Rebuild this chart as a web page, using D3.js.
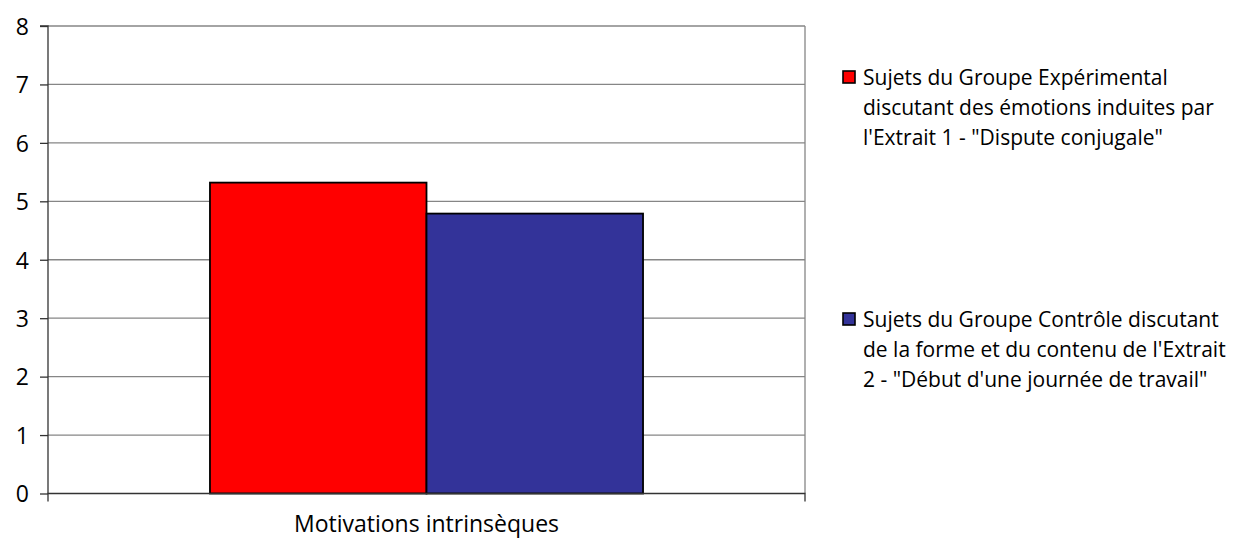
<!DOCTYPE html>
<html><head><meta charset="utf-8">
<script src="https://cdn.jsdelivr.net/npm/d3@7"></script>
<style>body{margin:0;background:#fff}svg{display:block}</style>
</head><body>
<svg id="c" width="1236" height="538"></svg>
<script>
const categories = ["Motivations intrinsèques"];
const seriesNames = [
  ["Sujets du Groupe Expérimental", "discutant des émotions induites par", "l'Extrait 1 - \"Dispute conjugale\""],
  ["Sujets du Groupe Contrôle discutant", "de la forme et du contenu de l'Extrait", "2 - \"Début d'une journée de travail\""]
];
const seriesKeys = ["exp", "ctrl"];
const seriesValues = [5.32, 4.79];
const seriesColors = ["#FF0000", "#333399"];
const yTicks = [0,1,2,3,4,5,6,7,8];

const svg = d3.select("#c");
const L = 48, R = 805, T = 26, B = 493.5;
const font = "'Open Sans', sans-serif";

const y = d3.scaleLinear().domain([0, 8]).range([B, T]);
const x0 = d3.scaleBand().domain(categories).range([L, R]).paddingInner(0).paddingOuter(0.374);
const x1 = d3.scaleBand().domain(seriesKeys).range([0, x0.bandwidth()]);

// gridlines
svg.append("g").selectAll("line").data(yTicks.filter(d => d > 0)).join("line")
  .attr("x1", L).attr("x2", R).attr("y1", d => y(d)).attr("y2", d => y(d))
  .attr("stroke", "#868686").attr("stroke-width", 1.3);
// right border
svg.append("line").attr("x1", R).attr("x2", R).attr("y1", T).attr("y2", B)
  .attr("stroke", "#868686").attr("stroke-width", 1.3);

// bars
const g = svg.append("g");
categories.forEach(c => {
  g.selectAll("rect").data(seriesKeys).join("rect")
    .attr("x", k => x0(c) + x1(k))
    .attr("y", (k, i) => y(seriesValues[i]))
    .attr("width", x1.bandwidth())
    .attr("height", (k, i) => B - y(seriesValues[i]))
    .attr("fill", (k, i) => seriesColors[i])
    .attr("stroke", "#000").attr("stroke-width", 1.8);
});

// y axis
const ya = svg.append("g").attr("transform", `translate(${L},0)`)
  .call(d3.axisLeft(y).tickValues(yTicks).tickSize(8).tickPadding(11).tickFormat(d3.format("d")));
ya.select(".domain").attr("stroke", "#333").attr("stroke-width", 1.3).attr("d", `M-8,${T}H0V${B}`);
ya.selectAll(".tick line").attr("stroke", "#333").attr("stroke-width", 1.3);
ya.selectAll(".tick text").attr("font-family", font).attr("font-size", 23).attr("fill", "#000")
  .attr("dy", "0.36em");

// x axis
const xa = svg.append("g").attr("transform", `translate(0,${B})`)
  .call(d3.axisBottom(x0).tickSize(0));
xa.select(".domain").attr("stroke", "#333").attr("stroke-width", 1.3).attr("d", `M${L},8V0H${R}V8`);
xa.selectAll(".tick text").attr("font-family", font).attr("font-size", 23).attr("fill", "#000")
  .attr("x", 0).attr("y", 38.5).attr("dy", 0);

// legend
const legY = [77, 319];
const lg = svg.append("g");
seriesKeys.forEach((k, i) => {
  lg.append("rect").attr("x", 843).attr("y", legY[i] - 6).attr("width", 12).attr("height", 12)
    .attr("fill", seriesColors[i]).attr("stroke", "#000").attr("stroke-width", 1.6);
  const t = lg.append("text").attr("font-family", font).attr("font-size", 21).attr("fill", "#000");
  seriesNames[i].forEach((line, j) => {
    t.append("tspan").attr("x", 863).attr("y", legY[i] + 7.5 + j * 30).text(line);
  });
});
</script>
</body></html>
